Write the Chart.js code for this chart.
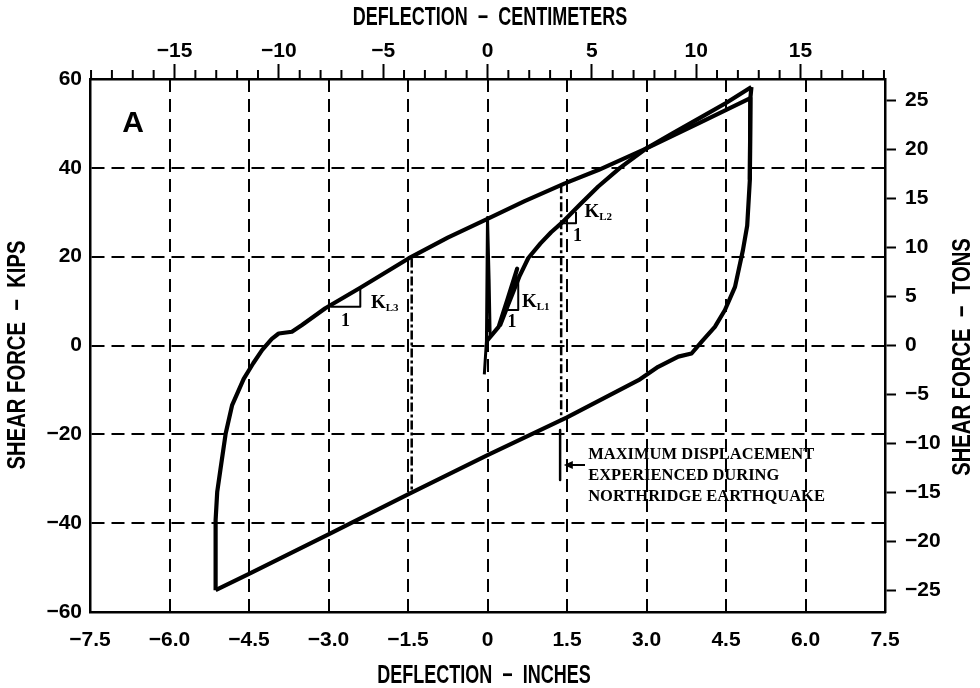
<!DOCTYPE html>
<html>
<head>
<meta charset="utf-8">
<script src="https://cdn.jsdelivr.net/npm/chart.js@4.4.1/dist/chart.umd.min.js"></script>
<style>
  html, body { margin: 0; padding: 0; background: #fff; }
  #wrap { width: 980px; height: 688px; }
</style>
</head>
<body>
<div id="wrap"><canvas id="chart" width="980" height="688"></canvas></div>
<script>
// Hysteresis test, panel A: deflection (inches) vs shear force (kips)

// tick labels
const inchLabels = ['−7.5', '−6.0', '−4.5', '−3.0', '−1.5', '0', '1.5', '3.0', '4.5', '6.0', '7.5'];
const kipLabels = ['−60', '−40', '−20', '0', '20', '40', '60'];
const cmLabels = ['−15', '−10', '−5', '0', '5', '10', '15'];
const tonLabels = ['−25', '−20', '−15', '−10', '−5', '0', '5', '10', '15', '20', '25'];

// small pull near zero
const sliverDefl = [-0.06, -0.02, 0.0, 0.03, 0.05];
const sliverForce = [-6.5, 1.0, 28.8, 15.0, 2.0];

// first loading to peak
const virginDefl = [0.0, 0.21, 0.38, 0.56, 0.40, 0.24, 0.40, 0.60, 0.77, 1.0, 1.2, 1.4, 1.75, 2.09, 2.5, 3.0, 3.5, 4.0, 4.5, 4.98];
const virginForce = [1.2, 4.2, 10.5, 17.3, 10.8, 4.6, 9.5, 15.5, 19.7, 23.0, 25.5, 27.6, 31.8, 35.8, 40.0, 44.4, 47.8, 51.2, 54.6, 58.2];

// unloading down the right side and along the lower branch
const unloadDefl = [4.98, 4.96, 4.95, 4.90, 4.82, 4.67, 4.48, 4.29, 4.05, 3.85, 3.6, 3.22, 2.85, 1.5, 0.0, -1.5, -3.0, -4.5, -5.13];
const unloadForce = [58.2, 55.7, 37.3, 27.0, 21.5, 13.2, 8.0, 4.2, 1.0, -1.8, -2.5, -4.8, -7.8, -16.2, -24.7, -33.5, -42.5, -51.4, -55.1];

// reloading up the left side and along the upper branch
const reloadDefl = [-5.13, -5.13, -5.10, -5.04, -4.94, -4.82, -4.60, -4.42, -4.25, -4.07, -3.94, -3.69, -3.5, -3.06, -2.4, -1.49, -0.75, -0.04, 0.7, 1.46, 2.09, 3.0, 4.0, 4.96, 4.95];
const reloadForce = [-55.1, -39.3, -33.0, -28.0, -19.8, -13.5, -7.5, -4.0, -1.0, 1.5, 2.7, 3.1, 4.6, 8.4, 13.0, 19.6, 24.3, 28.3, 32.5, 36.5, 39.5, 44.4, 50.1, 55.7, 37.3];

// slope triangles K_L3, K_L1, K_L2
const kl3Defl = [-2.96, -2.40, -2.40];
const kl3Force = [8.7, 8.7, 12.9];
const kl1Defl = [0.33, 0.58, 0.58];
const kl1Force = [8.0, 8.0, 14.7];
const kl2Defl = [1.40, 1.67, 1.67];
const kl2Force = [27.5, 27.5, 30.1];

// dash-dot lines at the maximum Northridge displacement
const leftMaxDefl = [-1.43, -1.43];
const leftMaxForce = [19.6, -33.3];
const rightMaxDefl = [1.39, 1.39];
const rightMaxForce = [36.3, -16.8];
const markerDefl = [1.37, 1.37];
const markerForce = [-19.0, -30.3];

const KIP_TO_TONNE = 0.45359;
const IN_TO_CM = 2.54;

const SANS = '"Liberation Sans", Arial, sans-serif';
const SERIF = '"Liberation Serif", "DejaVu Serif", serif';

function pts(xs, ys) { return xs.map((v, i) => ({ x: v, y: ys[i] })); }

function lineSet(xs, ys, width, dash) {
    return {
        data: pts(xs, ys), showLine: true, borderColor: '#000', borderWidth: width,
        borderDash: dash || [], pointRadius: 0, fill: false, tension: 0,
        borderJoinStyle: 'round', borderCapStyle: 'butt'
    };
}

// condensed-looking title text: squeeze horizontally
function squeezed(ctx, text, cx, cy, angle, sx) {
    ctx.save();
    ctx.translate(cx, cy);
    ctx.rotate(angle);
    ctx.scale(sx, 1);
    ctx.fillText(text, 0, 0);
    ctx.restore();
}

const decorations = {
    id: 'decorations',
    afterDraw(chart) {
        const { ctx, scales } = chart;
        const x = scales.x, y = scales.y, x2 = scales.x2;
        const px = v => x.getPixelForValue(v);
        const py = v => y.getPixelForValue(v);
        ctx.save();

        // minor centimetre ticks
        ctx.strokeStyle = '#000';
        ctx.lineWidth = 2;
        x2.ticks.forEach(t => {
            if (t.value % 5 !== 0) {
                const p = x2.getPixelForValue(t.value);
                ctx.beginPath(); ctx.moveTo(p, x2.bottom); ctx.lineTo(p, x2.bottom - 9); ctx.stroke();
            }
        });

        // axis titles
        ctx.fillStyle = '#000';
        ctx.textBaseline = 'middle';
        ctx.textAlign = 'center';
        ctx.font = 'bold 25px ' + SANS;
        squeezed(ctx, 'DEFLECTION  −  CENTIMETERS', 490, 18, 0, 0.72);
        squeezed(ctx, 'DEFLECTION  −  INCHES', 484, 676, 0, 0.72);
        squeezed(ctx, 'SHEAR FORCE  −  KIPS', 18, 355, -Math.PI / 2, 0.81);
        squeezed(ctx, 'SHEAR FORCE  −  TONS', 963, 357, -Math.PI / 2, 0.81);

        // panel letter
        ctx.font = 'bold 30px ' + SANS;
        ctx.fillText('A', 133, 124);

        // slope labels
        const kLabel = (xv, yv, sub) => {
            ctx.textAlign = 'left'; ctx.textBaseline = 'alphabetic';
            ctx.font = 'bold 19px ' + SERIF;
            const X = px(xv), Y = py(yv);
            ctx.fillText('K', X, Y);
            const w = ctx.measureText('K').width;
            ctx.font = 'bold 11px ' + SERIF;
            ctx.fillText(sub, X + w, Y + 3);
        };
        kLabel(-2.2, 8.4, 'L3');
        kLabel(0.65, 8.6, 'L1');
        kLabel(1.83, 29.0, 'L2');
        ctx.font = 'bold 18px ' + SERIF;
        ctx.textAlign = 'center'; ctx.textBaseline = 'middle';
        ctx.fillText('1', px(-2.68), py(5.5));
        ctx.fillText('1', px(0.46), py(5.3));
        ctx.fillText('1', px(1.70), py(24.6));

        // arrow to the maximum displacement marker
        const ay = py(-26.9), tip = px(1.44), tail = px(1.84);
        ctx.lineWidth = 2;
        ctx.beginPath(); ctx.moveTo(tail, ay); ctx.lineTo(tip + 6, ay); ctx.stroke();
        ctx.beginPath(); ctx.moveTo(tip, ay); ctx.lineTo(tip + 9, ay - 4); ctx.lineTo(tip + 9, ay + 4); ctx.closePath(); ctx.fill();

        ctx.font = 'bold 16.5px ' + SERIF;
        ctx.textAlign = 'left'; ctx.textBaseline = 'middle';
        ctx.fillText('MAXIMUM DISPLACEMENT', px(1.90), py(-24.7));
        ctx.fillText('EXPERIENCED DURING', px(1.90), py(-29.4));
        ctx.fillText('NORTHRIDGE EARTHQUAKE', px(1.90), py(-34.1));
        ctx.restore();
    }
};

const tickFont = { family: SANS, size: 21, weight: 'bold' };

new Chart(document.getElementById('chart'), {
    type: 'scatter',
    data: {
        datasets: [
            lineSet(sliverDefl, sliverForce, 3),
            lineSet(virginDefl, virginForce, 4.2),
            lineSet(unloadDefl, unloadForce, 4.2),
            lineSet(reloadDefl, reloadForce, 4.2),
            lineSet(kl3Defl, kl3Force, 2),
            lineSet(kl1Defl, kl1Force, 2),
            lineSet(kl2Defl, kl2Force, 2),
            lineSet(leftMaxDefl, leftMaxForce, 2.5, [9, 3, 3, 3]),
            lineSet(rightMaxDefl, rightMaxForce, 2.5, [9, 3, 3, 3]),
            lineSet(markerDefl, markerForce, 2.5)
        ]
    },
    options: {
        responsive: false,
        animation: false,
        devicePixelRatio: 1,
        layout: { padding: 0 },
        plugins: { legend: { display: false }, tooltip: { enabled: false } },
        scales: {
            x: {
                type: 'linear', position: 'bottom', min: -7.5, max: 7.5,
                afterFit: s => { s.height = 76; },
                ticks: { stepSize: 1.5, autoSkip: false, maxRotation: 0, padding: 16, color: '#000', font: tickFont,
                    callback: (v, i) => inchLabels[i] },
                grid: { color: '#000', lineWidth: 2, drawTicks: false },
                border: { color: '#000', width: 2.5, dash: [13, 7] }
            },
            x2: {
                type: 'linear', position: 'top', min: -7.5 * IN_TO_CM, max: 7.5 * IN_TO_CM,
                afterFit: s => { s.height = 79; },
                ticks: { stepSize: 1, includeBounds: false, autoSkip: false, maxRotation: 0, padding: 0, color: '#000', font: tickFont,
                    callback: v => (v % 5 === 0 ? cmLabels[(v + 15) / 5] : '') },
                grid: { drawOnChartArea: false, color: '#000', tickLength: 15, tickWidth: 2,
                    tickColor: c => (c.tick && c.tick.value % 5 === 0 ? '#000' : 'rgba(0,0,0,0)') },
                border: { color: '#000', width: 2.5 }
            },
            y: {
                type: 'linear', position: 'left', min: -60, max: 60,
                afterFit: s => { s.width = 90; },
                ticks: { stepSize: 20, padding: 8, color: '#000', font: tickFont,
                    callback: (v, i) => kipLabels[i] },
                grid: { color: '#000', lineWidth: 2, drawTicks: false },
                border: { color: '#000', width: 2.5, dash: [13, 7] }
            },
            y2: {
                type: 'linear', position: 'right', min: -60 * KIP_TO_TONNE, max: 60 * KIP_TO_TONNE,
                afterFit: s => { s.width = 95; },
                ticks: { stepSize: 5, includeBounds: false, padding: 9, color: '#000', font: tickFont,
                    callback: (v, i) => tonLabels[i] },
                grid: { drawOnChartArea: false, color: '#000', tickLength: 11, tickWidth: 2 },
                border: { color: '#000', width: 2.5 }
            }
        }
    },
    plugins: [decorations]
});
</script>
</body>
</html>
